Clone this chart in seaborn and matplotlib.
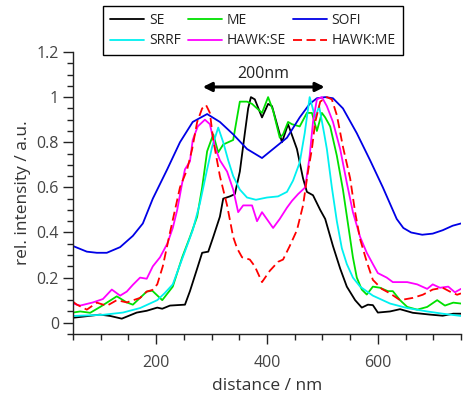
import matplotlib
matplotlib.use("Agg")
import matplotlib.pyplot as plt
from matplotlib.ticker import MultipleLocator, FixedLocator
import seaborn as sns
import pandas as pd

sns.set_theme(style="ticks")
plt.rcParams['font.family'] = ['Open Sans', 'DejaVu Sans']

# ---- data (distance in nm, relative intensity) ----
se_x = [50, 68, 99, 117, 138, 147, 165, 183, 202, 211, 225, 238, 252, 261, 274, 283, 294, 303, 315, 321,
        333, 342, 351, 360, 366, 371, 378, 391, 402, 409, 427, 438, 454, 465, 472, 483, 496, 505, 519, 532,
        544, 559, 571, 582, 591, 600, 622, 640, 663, 694, 717, 736, 750]
se_y = [0.022, 0.027, 0.036, 0.03, 0.018, 0.027, 0.045, 0.053, 0.067, 0.062, 0.076, 0.078, 0.08, 0.14, 0.24,
        0.31, 0.315, 0.38, 0.47, 0.55, 0.56, 0.57, 0.67, 0.84, 0.95, 1.0, 0.99, 0.91, 0.97, 0.96, 0.80, 0.88,
        0.77, 0.64, 0.58, 0.565, 0.50, 0.46, 0.34, 0.24, 0.16, 0.10, 0.067, 0.08, 0.078, 0.045, 0.05, 0.06,
        0.044, 0.036, 0.031, 0.04, 0.04]

me_x = [50, 63, 81, 99, 129, 147, 158, 183, 193, 211, 230, 247, 261, 274, 283, 292, 303, 312, 321, 339,
        346, 351, 364, 373, 391, 402, 411, 423, 429, 438, 445, 459, 472, 481, 490, 499, 505, 514, 526, 537,
        546, 555, 562, 571, 580, 591, 604, 618, 627, 640, 653, 671, 689, 707, 721, 736, 750]
me_y = [0.045, 0.05, 0.044, 0.07, 0.117, 0.09, 0.08, 0.138, 0.142, 0.10, 0.16, 0.29, 0.38, 0.47, 0.6, 0.76,
        0.835, 0.755, 0.79, 0.81, 0.91, 0.98, 0.98, 0.97, 0.93, 1.0, 0.94, 0.82, 0.835, 0.89, 0.88, 0.87,
        0.93, 0.93, 0.85, 0.93, 0.91, 0.87, 0.74, 0.59, 0.44, 0.29, 0.2, 0.147, 0.125, 0.16, 0.155, 0.14,
        0.14, 0.1, 0.07, 0.058, 0.07, 0.1, 0.076, 0.089, 0.085]

sofi_x = [50, 75, 93, 111, 135, 158, 176, 194, 220, 243, 266, 292, 315, 339, 364, 391, 411, 436, 459, 477,
          490, 505, 519, 537, 562, 586, 609, 634, 646, 660, 680, 699, 717, 735, 750]
sofi_y = [0.34, 0.315, 0.31, 0.31, 0.335, 0.385, 0.44, 0.55, 0.68, 0.8, 0.89, 0.925, 0.89, 0.835, 0.77, 0.73,
          0.77, 0.82, 0.91, 0.97, 0.995, 1.0, 0.995, 0.95, 0.84, 0.72, 0.6, 0.46, 0.42, 0.40, 0.39, 0.395,
          0.41, 0.43, 0.44]

srrf_x = [50, 104, 140, 171, 202, 215, 230, 248, 266, 279, 292, 301, 312, 321, 330, 339, 351, 364, 380, 400,
          420, 436, 447, 459, 468, 477, 487, 494, 503, 508, 517, 526, 535, 544, 555, 568, 591, 622, 653, 689,
          717, 750]
srrf_y = [0.03, 0.035, 0.045, 0.065, 0.1, 0.13, 0.17, 0.29, 0.41, 0.53, 0.68, 0.78, 0.865, 0.8, 0.72, 0.65,
          0.59, 0.555, 0.545, 0.555, 0.56, 0.58, 0.63, 0.71, 0.84, 1.0, 0.91, 0.96, 0.84, 0.77, 0.6, 0.45,
          0.33, 0.26, 0.2, 0.16, 0.12, 0.085, 0.065, 0.05, 0.04, 0.03]

hse_x = [50, 63, 86, 104, 120, 135, 147, 158, 171, 183, 194, 207, 220, 230, 238, 247, 252, 261, 266, 275,
         288, 297, 306, 315, 328, 339, 348, 357, 366, 373, 382, 391, 411, 423, 436, 445, 456, 469, 477, 483,
         490, 499, 508, 519, 532, 544, 555, 568, 580, 591, 600, 616, 627, 653, 671, 689, 699, 712, 727, 739,
         750]
hse_y = [0.085, 0.076, 0.09, 0.105, 0.147, 0.12, 0.138, 0.168, 0.2, 0.195, 0.25, 0.29, 0.35, 0.42, 0.5, 0.62,
         0.68, 0.715, 0.81, 0.87, 0.9, 0.88, 0.78, 0.72, 0.67, 0.59, 0.49, 0.52, 0.52, 0.52, 0.45, 0.49, 0.42,
         0.46, 0.51, 0.54, 0.57, 0.6, 0.74, 0.89, 0.99, 1.0, 0.96, 0.89, 0.77, 0.62, 0.49, 0.38, 0.31, 0.26,
         0.22, 0.2, 0.18, 0.18, 0.17, 0.15, 0.17, 0.155, 0.16, 0.135, 0.15]

hme_x = [50, 57, 75, 93, 111, 129, 147, 171, 183, 193, 202, 212, 225, 234, 243, 256, 265, 274, 283, 290,
         297, 303, 315, 328, 339, 346, 355, 369, 378, 391, 405, 420, 429, 441, 454, 465, 474, 481, 487, 496,
         508, 517, 526, 537, 550, 559, 568, 580, 591, 607, 622, 640, 663, 681, 699, 717, 730, 743, 750]
hme_y = [0.093, 0.08, 0.058, 0.089, 0.075, 0.1, 0.09, 0.11, 0.138, 0.145, 0.17, 0.25, 0.4, 0.5, 0.6, 0.68,
         0.77, 0.89, 0.95, 0.965, 0.93, 0.81, 0.65, 0.52, 0.38, 0.33, 0.29, 0.28, 0.25, 0.18, 0.23, 0.27,
         0.28, 0.34, 0.41, 0.52, 0.67, 0.77, 0.89, 0.98, 1.0, 0.99, 0.92, 0.78, 0.64, 0.49, 0.37, 0.27, 0.19,
         0.15, 0.13, 0.1, 0.11, 0.124, 0.147, 0.155, 0.138, 0.124, 0.13]

series_names = ["SE", "ME", "SOFI", "SRRF", "HAWK:SE", "HAWK:ME"]
series_x = [se_x, me_x, sofi_x, srrf_x, hse_x, hme_x]
series_y = [se_y, me_y, sofi_y, srrf_y, hse_y, hme_y]
colors = {"SE": "#000000", "ME": "#00e000", "SOFI": "#0000e6", "SRRF": "#00f0f0",
          "HAWK:SE": "#ff00ff", "HAWK:ME": "#ff0000"}
styles = {"SE": "-", "ME": "-", "SOFI": "-", "SRRF": "-", "HAWK:SE": "-", "HAWK:ME": (0, (5, 2.5))}

frames = []
for n, xs, ys in zip(series_names, series_x, series_y):
    frames.append(pd.DataFrame({"distance": xs, "intensity": ys, "series": n}))
df = pd.concat(frames, ignore_index=True)

W, H = 464, 399
fig = plt.figure(figsize=(W / 100, H / 100), dpi=100)
ax = fig.add_axes([73 / W, (H - 334) / H, (461 - 73) / W, (334 - 52) / H])

handles = {}
for n in series_names:
    sub = df[df["series"] == n]
    sns.lineplot(data=sub, x="distance", y="intensity", ax=ax, color=colors[n],
                 linewidth=1.3, estimator=None, sort=True, legend=False)
    line = ax.get_lines()[-1]
    line.set_linestyle(styles[n])
    handles[n] = line

ax.set_xlim(50, 750)
ax.set_ylim(-0.05, 1.2)
ax.xaxis.set_major_locator(FixedLocator([200, 400, 600]))
ax.xaxis.set_minor_locator(MultipleLocator(50))
ax.yaxis.set_major_locator(FixedLocator([0, 0.2, 0.4, 0.6, 0.8, 1.0, 1.2]))
ax.yaxis.set_minor_locator(MultipleLocator(0.05))
ax.set_yticklabels(["0", "0.2", "0.4", "0.6", "0.8", "1", "1.2"])
ax.tick_params(which="major", length=7, width=1, color="#222222", labelsize=11.5,
               labelcolor="#444444", pad=3)
ax.tick_params(axis="x", which="major", pad=8)
ax.tick_params(which="minor", length=4, width=1, color="#222222")
for s in ["top", "right"]:
    ax.spines[s].set_visible(False)
for s in ["left", "bottom"]:
    ax.spines[s].set_color("#222222")
    ax.spines[s].set_linewidth(1)

ax.set_xlabel("distance / nm", fontsize=12.5, color="#333333", labelpad=5)
ax.set_ylabel("rel. intensity / a.u.", fontsize=12.5, color="#333333", labelpad=4)

# 200 nm scale arrow
ax.annotate("", xy=(284, 1.045), xytext=(504, 1.045),
            arrowprops=dict(arrowstyle="<|-|>", color="black", lw=2.2,
                            mutation_scale=13, shrinkA=0, shrinkB=0))
ax.text(394, 1.065, "200nm", ha="center", va="bottom", fontsize=11.5, color="#222222")

order = ["SE", "SRRF", "ME", "HAWK:SE", "SOFI", "HAWK:ME"]
leg = fig.legend([handles[n] for n in order], order, ncol=3,
                 loc="upper left", bbox_to_anchor=(103 / W, 1 - 6 / H),
                 frameon=True, fancybox=False, edgecolor="black", framealpha=1,
                 fontsize=10, handlelength=2.45, columnspacing=0.5, handletextpad=0.35,
                 borderpad=0.5, labelspacing=0.4, borderaxespad=0)
leg.get_frame().set_linewidth(1)
for t in leg.get_texts():
    t.set_color("#222222")

fig.savefig("out.png", dpi=100)
